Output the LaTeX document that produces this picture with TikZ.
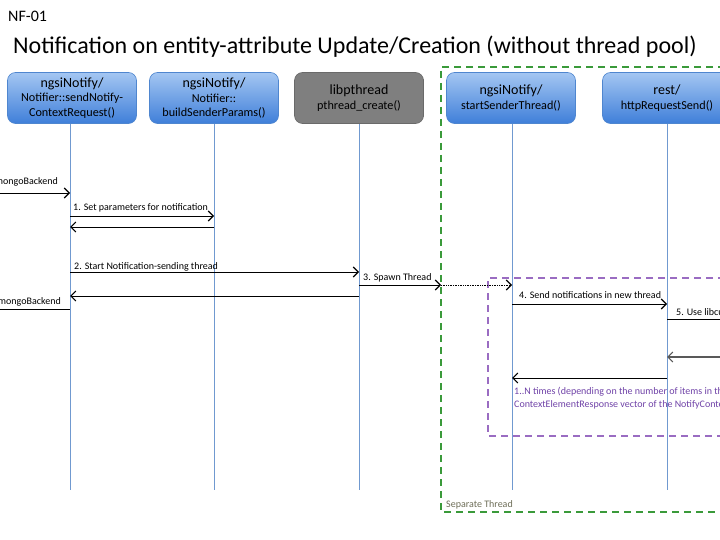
\documentclass[tikz,border=0pt]{standalone}
\usepackage{fontspec}
\setmainfont{Carlito}
\usetikzlibrary{arrows.meta}
\definecolor{boxtop}{HTML}{A4C6F2}
\definecolor{boxbot}{HTML}{3F7FD9}
\definecolor{boxedge}{HTML}{4F86CF}
\definecolor{lifec}{HTML}{7099D0}
\definecolor{grayfill}{HTML}{7F7F7F}
\definecolor{grayedge}{HTML}{6A6A6A}
\definecolor{threadgreen}{HTML}{3A9A3A}
\definecolor{loopviolet}{HTML}{9A6CC2}
\definecolor{looptext}{HTML}{7043A8}
\definecolor{septext}{HTML}{6E6E58}
\tikzset{
  actor/.style={rounded corners=8pt, draw=boxedge, line width=0.6pt, top color=boxtop, bottom color=boxbot, minimum width=129pt, minimum height=51pt, align=center, inner sep=1pt, font=\fontsize{12.2pt}{14.5pt}\selectfont},
  grayactor/.style={actor, draw=grayedge, top color=grayfill, bottom color=grayfill},
  head/.style={font=\fontsize{14pt}{16pt}\selectfont},
  lifeline/.style={draw=lifec, line width=0.8pt},
  msg/.style={draw=black, line width=0.9pt, -{Straight Barb[length=5pt,width=10pt,line width=1.1pt]}},
  plain/.style={draw=black, line width=0.9pt},
  lbl/.style={font=\fontsize{10pt}{12.5pt}\selectfont, inner sep=1pt},
}
\newcommand{\hd}[1]{{\fontsize{14pt}{16pt}\selectfont #1}}
\begin{document}
\begin{tikzpicture}[x=1pt,y=-1pt]
\clip (0,0) rectangle (720,540);
\fill[white] (0,0) rectangle (720,540);
% titles
\node[anchor=base west, font=\fontsize{16pt}{18pt}\selectfont, inner sep=0] (nf) at (8,22) {NF-01};
\node[anchor=base west, font=\fontsize{24pt}{27pt}\selectfont, inner sep=0] (title) at (13,54) {Notification on entity-attribute Update/Creation (without thread pool)};
% separate thread frame
\draw[threadgreen, line width=2pt, dash pattern=on 7pt off 5pt] (725,67) -- (441,67) -- (441,512) -- (725,512);
\node[anchor=base west, lbl, text=septext, inner sep=0] (sep) at (446,507) {Separate Thread};
% actors
\node[actor] (a1) at (72,98) {\hd{ngsiNotify/}\\Notifier::sendNotify-\\ContextRequest()};
\node[actor] (a2) at (214,98) {\hd{ngsiNotify/}\\Notifier::\\buildSenderParams()};
\node[grayactor] (a3) at (359,98) {\hd{libpthread}\\pthread\_create()};
\node[actor] (a4) at (511,98) {\hd{ngsiNotify/}\\startSenderThread()};
\node[actor] (a5) at (667,98) {\hd{rest/}\\httpRequestSend()};
% lifelines
\coordinate (l1) at (70,490);
\coordinate (l2) at (214,490);
\coordinate (l3) at (359,490);
\coordinate (l4) at (512,490);
\coordinate (l5) at (667,490);
\coordinate (edge) at (725,490);
\coordinate (left) at (-5,490);
\coordinate (thr) at (441,490);
\draw[lifeline] (a1.south -| l1) -- (l1);
\draw[lifeline] (a2.south -| l2) -- (l2);
\draw[lifeline] (a3.south -| l3) -- (l3);
\draw[lifeline] (a4.south -| l4) -- (l4);
\draw[lifeline] (a5.south -| l5) -- (l5);
% loop frame
\draw[loopviolet, line width=2pt, dash pattern=on 7pt off 5pt] (725,278) -- (488,278) -- (488,436) -- (725,436);
\node[anchor=base west, lbl, text=looptext, inner sep=0, align=left] (loop) at (514,407) {1..N times (depending on the number of items in the\\ContextElementResponse vector of the NotifyContextRequest)};
% messages
\draw[msg] (left |- 0,193) -- (l1 |- 0,193);
\node[lbl, anchor=base east] (m0) at (59,185) {mongoBackend};
\draw[msg] (l1 |- 0,216) -- (l2 |- 0,216);
\node[lbl, anchor=base west] (m1) at (72,211) {1. Set parameters for notification};
\draw[msg] (l2 |- 0,227) -- (l1 |- 0,227);
\draw[msg] (l1 |- 0,272) -- (l3 |- 0,272);
\node[lbl, anchor=base west] (m2) at (73,269) {2. Start Notification-sending thread};
\draw[msg] (l3 |- 0,296) -- (l1 |- 0,296);
\draw[plain] (left |- 0,309) -- (l1 |- 0,309);
\node[lbl, anchor=base east] (m0b) at (62,304) {mongoBackend};
\draw[msg] (l3 |- 0,285) -- (thr |- 0,285);
\node[lbl, anchor=base west] (m3) at (362,280) {3. Spawn Thread};
\draw[draw=black, line width=0.7pt, densely dotted, -{Straight Barb[length=5pt,width=10pt,line width=1.1pt]}] (thr |- 0,285) -- (l4 |- 0,285);
\draw[msg] (l4 |- 0,304) -- (l5 |- 0,304);
\node[lbl, anchor=base west] (m4) at (518,298) {4. Send notifications in new thread};
\draw[plain] (l5 |- 0,319) -- (edge |- 0,319);
\node[lbl, anchor=base west] (m5) at (675,315) {5. Use libcurl};
\draw[msg, draw=black!65, line width=1.2pt] (edge |- 0,357) -- (l5 |- 0,357);
\draw[msg] (l5 |- 0,378) -- (l4 |- 0,378);
\end{tikzpicture}
\end{document}
